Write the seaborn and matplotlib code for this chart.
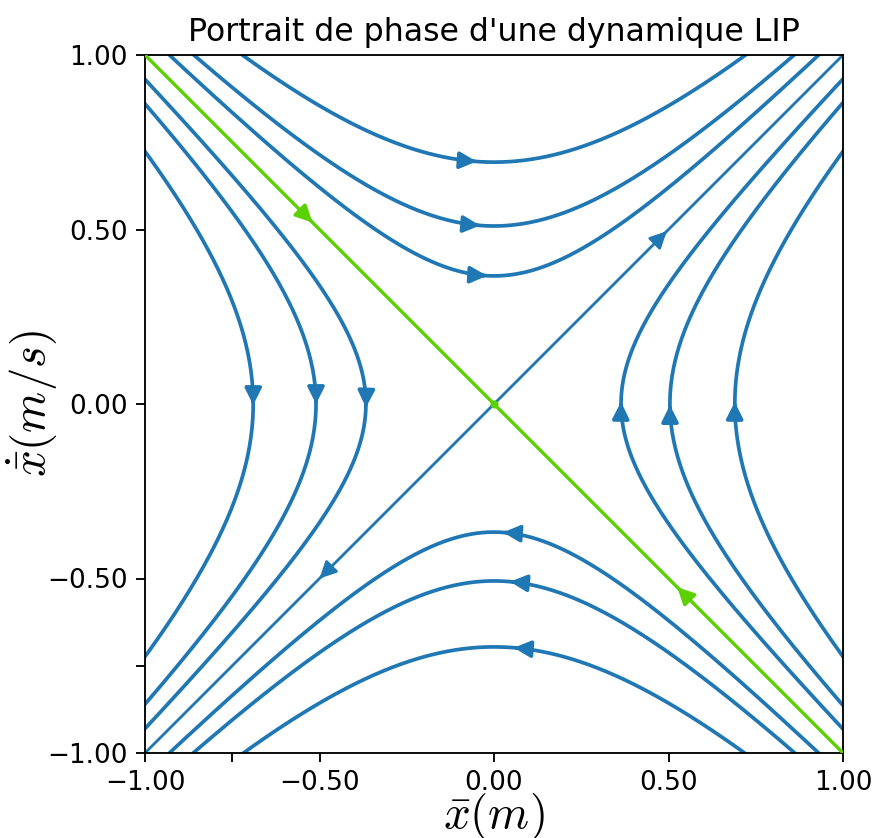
import numpy as np
import matplotlib
matplotlib.use("Agg")
import matplotlib.pyplot as plt
import seaborn as sns
from matplotlib.patches import FancyArrowPatch

plt.rcParams['mathtext.fontset'] = 'cm'

BLUE = '#1f77b4'
GREEN = '#5ad100'

# vertices of the trajectories (hyperbolas x'^2 - x^2 = const)
top_vertices = [0.367, 0.51, 0.693]        # xdot at x = 0, upper branches
bottom_vertices = [-0.367, -0.507, -0.696]  # xdot at x = 0, lower branches
left_vertices = [-0.69, -0.51, -0.367]      # x at xdot = 0, left branches
right_vertices = [0.364, 0.504, 0.69]       # x at xdot = 0, right branches

# arrow tip positions along each trajectory
top_arrow_x = [-0.02, -0.04, -0.05]
bottom_arrow_x = [0.026, 0.046, 0.057]
left_arrow_v = [-0.003, 0.0, -0.01]
right_arrow_v = [0.006, -0.003, 0.006]
unstable_arrow_x = [0.495, -0.50]
stable_arrow_x = [-0.52, 0.525]

tick_values = [-1.0, -0.75, -0.5, 0.0, 0.5, 1.0]
tick_labels = ['\u22121.00', '', '\u22120.50', '0.00', '0.50', '1.00']

fig = plt.figure(figsize=(875 / 167, 838 / 167), dpi=167)
ax = fig.add_axes([145 / 875, (838 - 753) / 838, 698 / 875, 698 / 838])

LW = 1.6
s = np.linspace(-1.05, 1.05, 400)


def add_arrow(px, py, color, lw):
    d = np.array([py, px])  # flow direction (xdot, xddot) = (v, x)
    d = d / np.linalg.norm(d)
    tail = (px - 0.01 * d[0], py - 0.01 * d[1])
    arr = FancyArrowPatch(tail, (px, py), arrowstyle='-|>', mutation_scale=15,
                          color=color, lw=lw, shrinkA=0, shrinkB=0, zorder=4)
    ax.add_patch(arr)


for v, ax_tip in zip(top_vertices + bottom_vertices, top_arrow_x + bottom_arrow_x):
    ys = np.sign(v) * np.sqrt(v ** 2 + s ** 2)
    sns.lineplot(x=s, y=ys, sort=False, estimator=None, color=BLUE, linewidth=LW, ax=ax)
    add_arrow(ax_tip, np.sign(v) * np.sqrt(v ** 2 + ax_tip ** 2), BLUE, LW)

for c, v_tip in zip(left_vertices + right_vertices, left_arrow_v + right_arrow_v):
    xs = np.sign(c) * np.sqrt(c ** 2 + s ** 2)
    sns.lineplot(x=xs, y=s, sort=False, estimator=None, color=BLUE, linewidth=LW, ax=ax)
    add_arrow(np.sign(c) * np.sqrt(c ** 2 + v_tip ** 2), v_tip, BLUE, LW)

# unstable manifold
diag = np.array([-1.05, 1.05])
sns.lineplot(x=diag, y=diag, sort=False, estimator=None, color=BLUE, linewidth=1.2, ax=ax)
for p in unstable_arrow_x:
    add_arrow(p, p, BLUE, 1.2)

# stable manifold
sns.lineplot(x=diag, y=-diag, sort=False, estimator=None, color=GREEN, linewidth=1.45, ax=ax)
ax.lines[-1].set_zorder(3)
for p in stable_arrow_x:
    add_arrow(p, -p, GREEN, 1.45)
ax.plot([0], [0], 'o', ms=2.5, color=GREEN, zorder=5)

ax.set_xlim(-1, 1)
ax.set_ylim(-1, 1)
ax.set_xticks(tick_values)
ax.set_xticklabels(tick_labels, fontsize=11.3)
ax.set_yticks(tick_values)
ax.set_yticklabels(tick_labels, fontsize=11.3)
ax.tick_params(length=3.8)
ax.set_title("Portrait de phase d'une dynamique LIP", fontsize=13.6)
ax.set_xlabel(r'$\bar{x}(m)$', fontsize=20.2)
ax.set_ylabel(r'$\dot{\bar{x}}(m/s)$', fontsize=20.2)
ax.xaxis.set_label_coords(0.5, -0.054)
ax.yaxis.set_label_coords(-0.122, 0.5)

fig.savefig('out.png', dpi=167)
